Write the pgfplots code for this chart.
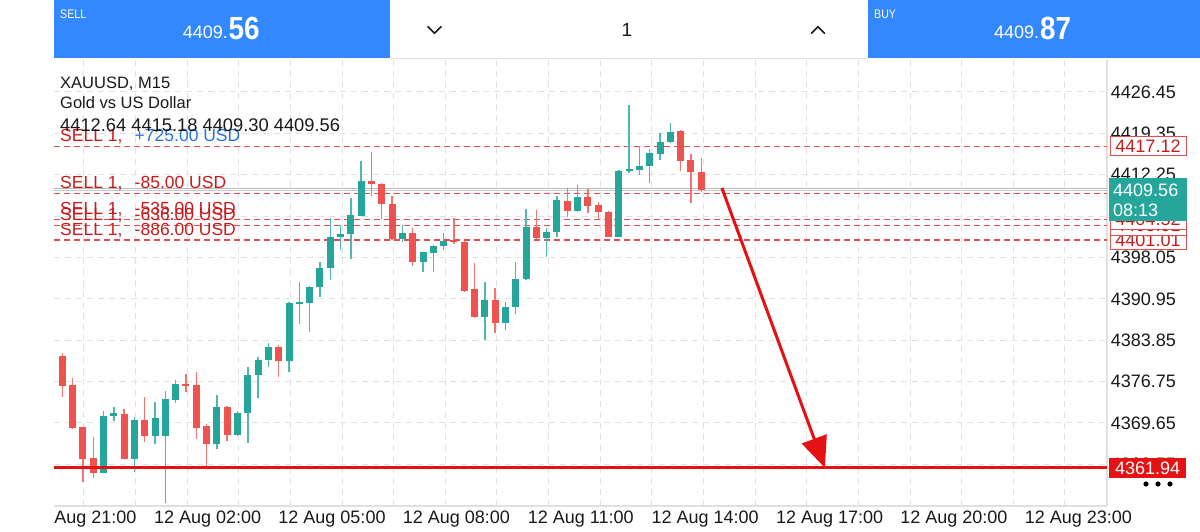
\documentclass[border=0pt]{standalone}
\usepackage{pgfplots}
\pgfplotsset{compat=1.18}
\usepackage{pgfplotstable}
\usepackage{fontspec}
\setmainfont{Liberation Sans}
\usetikzlibrary{arrows.meta}
\definecolor{upc}{RGB}{38,166,154}
\definecolor{dnc}{RGB}{239,83,80}
\definecolor{lvl}{RGB}{222,80,80}
\definecolor{lbl}{RGB}{200,28,28}
\definecolor{bluelbl}{RGB}{40,115,220}
\definecolor{hdr}{RGB}{52,136,255}
\definecolor{gridc}{RGB}{226,226,226}
\definecolor{tgt}{RGB}{228,18,18}
\definecolor{txt}{RGB}{25,25,25}
\newcommand\fs[1]{\fontsize{#1}{#1}\selectfont}

\pgfplotstableread{
i o h l c
4 4361.12 4371.71 4361.00 4370.90
5 4370.85 4372.45 4370.04 4371.37
7 4363.53 4370.63 4361.30 4370.16
9 4367.37 4373.20 4366.10 4370.51
10 4367.37 4375.19 4355.87 4373.72
11 4373.60 4377.03 4373.13 4376.34
15 4366.10 4374.45 4365.14 4372.34
17 4367.54 4371.71 4367.50 4371.31
18 4371.31 4379.31 4366.27 4377.88
19 4377.94 4381.02 4373.89 4380.46
20 4380.46 4383.43 4379.21 4382.74
22 4380.29 4390.46 4378.35 4390.29
23 4390.12 4393.89 4386.58 4390.41
24 4390.29 4393.20 4385.21 4393.03
25 4392.98 4397.32 4391.21 4396.29
26 4396.19 4404.82 4394.18 4401.61
27 4401.51 4403.62 4399.33 4402.02
28 4402.07 4408.20 4397.79 4405.33
29 4405.21 4414.60 4405.10 4411.17
33 4401.22 4403.62 4400.75 4402.19
35 4397.32 4399.00 4395.50 4398.93
36 4398.87 4400.10 4395.50 4400.02
37 4400.02 4402.19 4399.33 4400.92
41 4387.78 4393.79 4383.89 4390.75
43 4386.86 4390.46 4385.60 4389.60
44 4389.60 4397.32 4388.35 4394.35
45 4394.30 4406.36 4394.20 4403.33
47 4401.44 4403.16 4398.18 4402.42
48 4402.37 4408.59 4401.51 4407.91
50 4406.02 4410.48 4405.90 4408.47
54 4401.61 4413.05 4401.50 4412.88
55 4412.88 4424.20 4412.49 4413.28
56 4413.05 4417.17 4412.20 4413.74
57 4413.74 4416.61 4410.87 4415.92
58 4415.80 4419.35 4414.77 4417.91
59 4417.91 4421.07 4417.63 4419.62
}\upt

\pgfplotstableread{
i o h l c
0 4381.20 4381.71 4374.06 4376.05
1 4376.17 4377.42 4368.70 4368.84
2 4368.91 4369.00 4359.60 4363.47
3 4363.59 4367.20 4360.27 4361.12
6 4371.19 4372.05 4363.40 4363.47
8 4370.16 4374.06 4366.44 4367.37
12 4376.34 4378.00 4374.92 4376.05
13 4376.17 4378.35 4366.85 4368.74
14 4369.14 4369.43 4362.32 4366.10
16 4372.45 4372.57 4366.51 4367.54
21 4382.74 4383.03 4377.49 4380.29
30 4411.17 4416.09 4408.59 4410.65
31 4410.70 4410.80 4404.65 4407.22
32 4407.22 4408.64 4401.10 4401.22
34 4402.19 4403.16 4396.58 4397.22
38 4401.04 4404.82 4400.31 4400.75
39 4400.75 4400.90 4392.20 4392.35
40 4392.59 4397.05 4387.60 4387.78
42 4390.75 4392.86 4385.14 4386.86
46 4403.33 4406.19 4401.16 4401.44
49 4407.79 4409.91 4404.94 4406.02
51 4408.37 4409.74 4405.63 4406.88
52 4407.00 4407.62 4404.60 4405.85
53 4405.90 4406.00 4401.50 4401.61
60 4419.74 4419.90 4412.93 4414.60
61 4414.77 4415.75 4407.34 4412.66
62 4412.64 4415.18 4409.30 4409.56
}\dnt

\tikzset{
  lvlline/.style={lvl, line width=1.5pt, dash pattern=on 6pt off 4pt},
  sellbl/.style={anchor=base west, inner sep=0pt, yshift=5pt, font=\fs{17.5}, text=lbl},
  rbox/.style={anchor=west, xshift=2.5pt, draw=lvl, line width=1pt, fill=white, text=lbl, font=\fs{18},
        minimum width=76pt, minimum height=19pt, inner sep=0pt},
}

\begin{document}
\begin{tikzpicture}[x=1pt,y=1pt]
\fill[white] (0,0) rectangle (1200,532);
\useasboundingbox (0,0) rectangle (1200,532);

\begin{axis}[
  at={(54pt,26pt)}, anchor=south west,
  width=1053pt, height=446pt, scale only axis,
  xmin=-0.805, xmax=101.37,
  ymin=4355.41, ymax=4431.92,
  clip=false,
  axis x line*=bottom, axis y line*=right,
  axis line style={draw=black!12, line width=1.3pt},
  major tick length=0pt,
  xtick={2.10,7.11,12.12,17.13,22.14,27.15,32.16,37.17,42.18,47.19,52.20,57.21,62.22,67.23,72.24,77.25,82.26,87.27,92.28,97.29},
  xticklabels={},
  extra x ticks={3.22,14.1,26.17,38.24,50.31,62.38,74.45,86.52,98.59},
  extra x tick labels={Aug 21:00,12 Aug 02:00,12 Aug 05:00,12 Aug 08:00,12 Aug 11:00,12 Aug 14:00,12 Aug 17:00,12 Aug 20:00,12 Aug 23:00},
  extra x tick style={grid=none},
  xticklabel style={font=\fs{18}, text=txt, anchor=base, inner sep=0pt, yshift=-18pt},
  ytick={4362.55,4369.65,4376.75,4383.85,4390.95,4398.05,4405.15,4412.25,4419.35,4426.45},
  yticklabels={4362.55,4369.65,4376.75,4383.85,4390.95,4398.05,4405.15,4412.25,4419.35,4426.45},
  yticklabel style={font=\fs{18}, text=txt, anchor=west, inner sep=0pt, xshift=3.7pt},
  grid=major,
  major grid style={draw=gridc, line width=1pt, dash pattern=on 6pt off 5pt},
]
% price lines
\draw[black!28, line width=1.6pt] (axis cs:-0.805,4409.87) -- (axis cs:101.37,4409.87);
\draw[black!22, line width=1.4pt] (axis cs:-0.805,4409.56) -- (axis cs:101.37,4409.56);
\draw[lvlline] (axis cs:-0.805,4417.12) -- (axis cs:101.37,4417.12);
\draw[lvlline] (axis cs:-0.805,4409.02) -- (axis cs:101.37,4409.02);
\draw[lvlline] (axis cs:-0.805,4404.52) -- (axis cs:101.37,4404.52);
\draw[lvlline] (axis cs:-0.805,4403.51) -- (axis cs:101.37,4403.51);
\draw[lvlline] (axis cs:-0.805,4401.01) -- (axis cs:101.37,4401.01);
% wicks
\addplot[draw=none, mark=none, forget plot,
  error bars/.cd, y dir=both, y explicit, error mark=none,
  error bar style={draw=upc!80, line width=1.4pt, solid}]
  table[x=i, y expr={(\thisrow{h}+\thisrow{l})/2}, y error expr={(\thisrow{h}-\thisrow{l})/2}]{\upt};
\addplot[draw=none, mark=none, forget plot,
  error bars/.cd, y dir=both, y explicit, error mark=none,
  error bar style={draw=dnc!80, line width=1.4pt, solid}]
  table[x=i, y expr={(\thisrow{h}+\thisrow{l})/2}, y error expr={(\thisrow{h}-\thisrow{l})/2}]{\dnt};
% bodies
\addplot[draw=none, mark=none, forget plot,
  error bars/.cd, y dir=both, y explicit, error mark=none,
  error bar style={draw=upc, line width=7pt, solid}]
  table[x=i, y expr={(\thisrow{o}+\thisrow{c})/2}, y error expr={max(abs(\thisrow{o}-\thisrow{c})/2,0.15)}]{\upt};
\addplot[draw=none, mark=none, forget plot,
  error bars/.cd, y dir=both, y explicit, error mark=none,
  error bar style={draw=dnc, line width=7pt, solid}]
  table[x=i, y expr={(\thisrow{o}+\thisrow{c})/2}, y error expr={max(abs(\thisrow{o}-\thisrow{c})/2,0.15)}]{\dnt};
% target line
\draw[tgt, line width=3pt] (axis cs:-0.805,4361.94) -- (axis cs:101.37,4361.94);
% arrow
\draw[tgt, line width=3pt, -{Triangle[length=31pt,width=26pt]}] (axis cs:64.0,4409.97) -- (axis cs:74.0,4361.94);
% labels of levels
\node[sellbl] at (axis cs:-0.22,4417.12) {SELL 1,\hspace{0.7em}\textcolor{bluelbl}{+725.00 USD}};
\node[sellbl] at (axis cs:-0.22,4409.02) {SELL 1,\hspace{0.7em}-85.00 USD};
\node[sellbl] at (axis cs:-0.22,4404.52) {SELL 1,\hspace{0.7em}-535.00 USD};
\node[sellbl] at (axis cs:-0.22,4403.51) {SELL 1,\hspace{0.7em}-636.00 USD};
\node[sellbl] at (axis cs:-0.22,4401.01) {SELL 1,\hspace{0.7em}-886.00 USD};
% right boxes
\node[rbox] at (axis cs:101.37,4417.12) {4417.12};
\node[rbox] at (axis cs:101.37,4401.01) {4401.01};
\node[rbox] at (axis cs:101.37,4403.51) {4403.51};
\node[rbox] at (axis cs:101.37,4404.52) {4404.52};
\node[rbox] at (axis cs:101.37,4409.02) {4409.02};
\node[anchor=west, xshift=2pt, fill=tgt, text=white, font=\fs{18},
      minimum width=77pt, minimum height=20pt, inner sep=0pt] at (axis cs:101.37,4361.94) {4361.94};
\end{axis}

% current price box
\fill[upc] (1108.5,311) rectangle (1187,354);
\node[anchor=west, inner sep=0pt, text=white, font=\fs{18}] at (1113,341.6) {4409.56};
\node[anchor=west, inner sep=0pt, text=white, font=\fs{18}] at (1113,321.5) {08:13};
% dots
\foreach \xx in {1146,1158,1170}{\fill[black] (\xx,48) circle (2.6);}

% symbol text
\node[anchor=base west, inner sep=0pt, text=txt, font=\fs{16.5}] at (60,443.7) {XAUUSD, M15};
\node[anchor=base west, inner sep=0pt, text=txt, font=\fs{16.5}] at (60,423) {Gold vs US Dollar};
\node[anchor=base west, inner sep=0pt, text=txt, font=\fs{18.3}] at (60,400.3) {4412.64 4415.18 4409.30 4409.56};

% header
\fill[hdr] (53.5,473.7) rectangle (390,532);
\fill[hdr] (868,473.7) rectangle (1200,532);
\fill[black!10] (390,472.5) rectangle (868,474.2);
\node[anchor=base west, inner sep=0pt, text=white, font=\fs{12.5}, xscale=0.85, transform shape] at (60,513) {SELL};
\node[anchor=base west, inner sep=0pt, text=white, font=\fs{18}] at (182.7,493) {4409.};
\node[anchor=base west, inner sep=0pt, text=white, font=\fs{32}\bfseries, xscale=0.87, transform shape] at (228.5,492) {56};
\node[anchor=base west, inner sep=0pt, text=white, font=\fs{12.5}, xscale=0.85, transform shape] at (874,513) {BUY};
\node[anchor=base west, inner sep=0pt, text=white, font=\fs{18}] at (994,493) {4409.};
\node[anchor=base west, inner sep=0pt, text=white, font=\fs{32}\bfseries, xscale=0.87, transform shape] at (1040,492) {87};
\draw[txt, line width=1.6pt, line cap=round, line join=round] (428,505.3) -- (434.5,498.7) -- (441,505.3);
\draw[txt, line width=1.6pt, line cap=round, line join=round] (811.5,498.7) -- (818,505.3) -- (824.5,498.7);
\node[anchor=base, inner sep=0pt, text=txt, font=\fs{19}] at (627,495) {1};
\end{tikzpicture}
\end{document}
